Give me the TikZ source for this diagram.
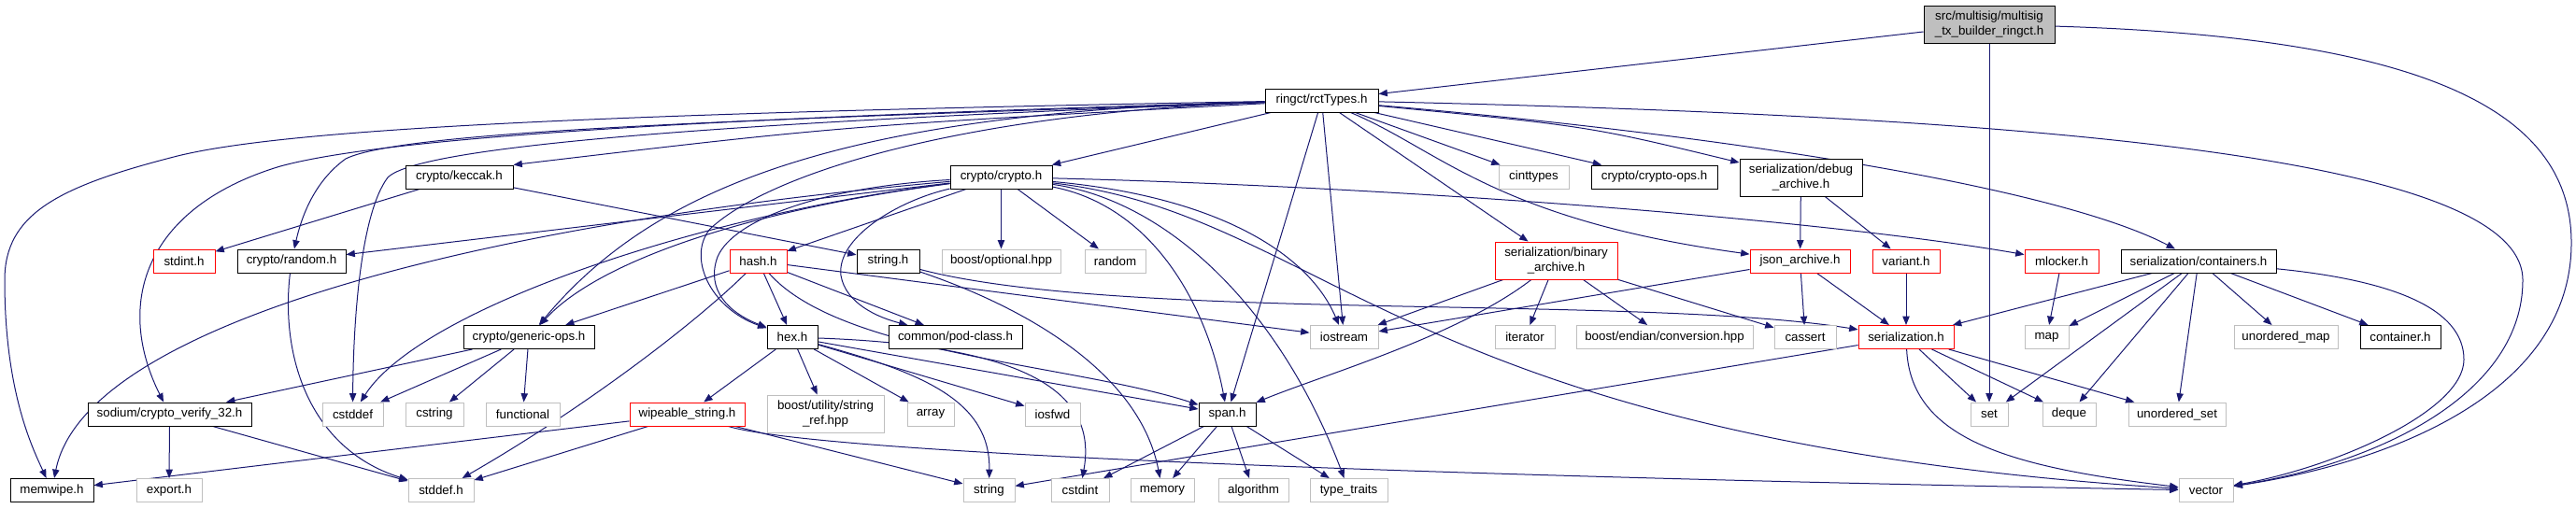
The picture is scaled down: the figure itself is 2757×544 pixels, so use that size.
\documentclass[tikz,border=0pt]{standalone}
\usepackage{fontspec}
\setmainfont{Liberation Sans}
\usetikzlibrary{arrows.meta}
\pgfdeclarelayer{bg}
\pgfsetlayers{bg,main}
\definecolor{edgec}{HTML}{191970}
\definecolor{grayb}{HTML}{BFBFBF}
\definecolor{redb}{HTML}{FF0000}
\begin{document}
\begin{tikzpicture}[x=0.75pt,y=-0.75pt,
  box/.style={draw,fill=white,line width=0.75pt,inner xsep=1pt,inner ysep=1pt,minimum height=18.75pt,font=\fontsize{10}{11.5}\selectfont,align=center,text=black},
  nb/.style={box,draw=black},
  ng/.style={box,draw=grayb},
  nr/.style={box,draw=redb},
  ntop/.style={box,draw=black,fill=grayb},
  wd/.style={minimum width=#1*0.75pt},
  tall/.style={minimum height=30pt},
  ed/.style={draw=edgec,line width=0.75pt,-{Triangle[length=7pt,width=5.5pt]}}]
\useasboundingbox (0,0) rectangle (2757,544);
% rank 0
\node[ntop,wd=140,tall] (top) at (2129,26) {src/multisig/multisig\\\_tx\_builder\_ringct.h};
% rank 1
\node[nb,wd=121] (rct) at (1414.5,107.5) {ringct/rctTypes.h};
% rank 2
\node[nb,wd=115] (keccak) at (491.5,189.5) {crypto/keccak.h};
\node[nb,wd=109] (crypto) at (1071.5,189.5) {crypto/crypto.h};
\node[ng,wd=75] (cinttypes) at (1641.5,189.5) {cinttypes};
\node[nb,wd=135] (cryptoops) at (1770.5,189.5) {crypto/crypto-ops.h};
\node[nb,wd=131,tall] (debug) at (1927.5,190) {serialization/debug\\\_archive.h};
% rank 3
\node[nr,wd=66] (stdint) at (197,279.5) {stdint.h};
\node[nb,wd=116] (randomh) at (312,279.5) {crypto/random.h};
\node[nr,wd=61] (hash) at (811.5,279.5) {hash.h};
\node[nb,wd=67] (stringh) at (950.5,279.5) {string.h};
\node[ng,wd=127] (optional) at (1071.5,279.5) {boost/optional.hpp};
\node[ng,wd=65] (randomsys) at (1193.5,279.5) {random};
\node[nr,wd=131,tall] (binary) at (1665.5,279) {serialization/binary\\\_archive.h};
\node[nr,wd=107] (json) at (1926.5,279.5) {json\_archive.h};
\node[nr,wd=72] (variant) at (2040,279.5) {variant.h};
\node[nr,wd=79] (mlocker) at (2206.5,279.5) {mlocker.h};
\node[nb,wd=166] (containers) at (2353,279.5) {serialization/containers.h};
% rank 4
\node[nb,wd=140] (generic) at (566,361) {crypto/generic-ops.h};
\node[nb,wd=54] (hex) at (848,361) {hex.h};
\node[nb,wd=143] (pod) at (1022.5,361) {common/pod-class.h};
\node[ng,wd=73] (iostream) at (1438.5,361) {iostream};
\node[ng,wd=64] (iterator) at (1632,361) {iterator};
\node[ng,wd=189] (endian) at (1781.5,361) {boost/endian/conversion.hpp};
\node[ng,wd=66] (cassert) at (1932,361) {cassert};
\node[nr,wd=102] (serial) at (2040,361) {serialization.h};
\node[ng,wd=47] (map) at (2190.5,361) {map};
\node[ng,wd=111] (umap) at (2446.5,361) {unordered\_map};
\node[nb,wd=86] (containerh) at (2569,361) {container.h};
% rank 5
\node[nb,wd=175] (sodium) at (181.5,443.5) {sodium/crypto\_verify\_32.h};
\node[ng,wd=65] (cstddef) at (377.5,443.5) {cstddef};
\node[ng,wd=62] (cstring) at (465,443.5) {cstring};
\node[ng,wd=79] (functional) at (559.5,443.5) {functional};
\node[nr,wd=123] (wipeable) at (735.5,443.5) {wipeable\_string.h};
\node[ng,wd=125,tall] (stringref) at (883.5,443) {boost/utility/string\\\_ref.hpp};
\node[ng,wd=50] (array) at (996,443.5) {array};
\node[ng,wd=59] (iosfwd) at (1126.5,443.5) {iosfwd};
\node[nb,wd=61] (span) at (1313.5,443.5) {span.h};
\node[ng,wd=40] (set) at (2129,443.5) {set};
\node[ng,wd=57] (deque) at (2214.5,443.5) {deque};
\node[ng,wd=104] (uset) at (2330,443.5) {unordered\_set};
% rank 6
\node[nb,wd=89] (memwipe) at (55.5,525) {memwipe.h};
\node[ng,wd=70] (export) at (181,525) {export.h};
\node[ng,wd=70] (stddef) at (472,525) {stddef.h};
\node[ng,wd=55] (stringsys) at (1058.5,525) {string};
\node[ng,wd=62] (cstdint) at (1156,525) {cstdint};
\node[ng,wd=68] (memory) at (1244,525) {memory};
\node[ng,wd=75] (algorithm) at (1341.5,525) {algorithm};
\node[ng,wd=83] (typetraits) at (1443.5,525) {type\_traits};
\node[ng,wd=58] (vector) at (2361,525) {vector};

\begin{pgfonlayer}{bg}
% top
\draw[ed] (top) -- (rct);
\draw[ed] (top) -- (set);
\draw[ed] (top) .. controls (2600,40) and (2752,120) .. (2752,260) .. controls (2752,420) and (2560,495) .. (vector);
% rctTypes
\draw[ed] (rct) .. controls (600,122) and (300,140) .. (190,167) .. controls (60,200) and (5,230) .. (5,300) .. controls (5,420) and (35,480) .. (memwipe);
\draw[ed] (rct) .. controls (800,125) and (420,145) .. (300,178) .. controls (160,220) and (120,320) .. (sodium);
\draw[ed] (rct) .. controls (800,128) and (430,140) .. (370,170) .. controls (335,195) and (322,235) .. (randomh);
\draw[ed] (rct) .. controls (800,130) and (450,155) .. (415,190) .. controls (385,230) and (378,350) .. (cstddef);
\draw[ed] (rct) .. controls (900,135) .. (keccak.north east);
\draw[ed] (rct) .. controls (900,120) and (700,200) .. (generic);
\draw[ed] (rct) .. controls (1050,120) and (830,180) .. (760,245) .. controls (735,275) and (760,330) .. (hex);
\draw[ed] (rct) -- (crypto);
\draw[ed] (rct) -- (iostream);
\draw[ed] (rct) -- (span);
\draw[ed] (rct) -- (binary);
\draw[ed] (rct) .. controls (1540,160) and (1600,235) .. (json);
\draw[ed] (rct) -- (cinttypes);
\draw[ed] (rct) -- (cryptoops);
\draw[ed] (rct) .. controls (1700,135) .. (debug);
\draw[ed] (rct) .. controls (1850,145) and (2200,200) .. (containers);
\draw[ed] (rct) .. controls (2200,125) and (2700,170) .. (2700,300) .. controls (2700,420) and (2550,495) .. (vector);
% crypto.h
\draw[ed] (crypto) -- (randomh);
\draw[ed] (crypto) .. controls (500,240) and (90,350) .. (memwipe);
\draw[ed] (crypto) .. controls (800,225) and (640,280) .. (generic);
\draw[ed] (crypto) .. controls (750,230) and (450,330) .. (cstddef);
\draw[ed] (crypto) .. controls (880,200) and (785,235) .. (768,275) .. controls (755,310) and (780,335) .. (hex);
\draw[ed] (crypto) -- (hash);
\draw[ed] (crypto) .. controls (960,215) and (895,255) .. (900,295) .. controls (905,325) and (940,340) .. (pod);
\draw[ed] (crypto) -- (optional);
\draw[ed] (crypto) -- (randomsys);
\draw[ed] (crypto) .. controls (1230,220) and (1290,320) .. (span);
\draw[ed] (crypto) .. controls (1250,215) and (1370,330) .. (typetraits);
\draw[ed] (crypto) .. controls (1300,210) and (1400,270) .. (iostream);
\draw[ed] (crypto) .. controls (1420,230) and (1500,470) .. (vector);
\draw[ed] (crypto) .. controls (1500,200) and (1950,235) .. (mlocker);
% keccak
\draw[ed] (keccak) -- (stdint);
\draw[ed] (keccak) -- (stringh);
% random.h
\draw[ed] (randomh) .. controls (300,380) and (330,480) .. (stddef);
% generic-ops
\draw[ed] (generic) -- (sodium);
\draw[ed] (generic) -- (cstddef);
\draw[ed] (generic) -- (cstring);
\draw[ed] (generic) -- (functional);
% sodium
\draw[ed] (sodium) -- (export);
\draw[ed] (sodium) -- (stddef);
% hash
\draw[ed] (hash) -- (generic);
\draw[ed] (hash) .. controls (740,350) and (620,440) .. (stddef);
\draw[ed] (hash) -- (hex);
\draw[ed] (hash) -- (pod);
\draw[ed] (hash) .. controls (900,380) and (1150,390) .. (span);
\draw[ed] (hash) -- (iostream);
% string.h
\draw[ed] (stringh) .. controls (1200,345) and (1750,315) .. (serial);
\draw[ed] (stringh) .. controls (1100,330) and (1220,400) .. (memory);
% hex
\draw[ed] (hex) -- (wipeable);
\draw[ed] (hex) -- (stringref);
\draw[ed] (hex) -- (array);
\draw[ed] (hex) -- (iosfwd);
\draw[ed] (hex) .. controls (990,400) and (1060,430) .. (stringsys);
\draw[ed] (hex) .. controls (1100,370) and (1175,420) .. (cstdint);
\draw[ed] (hex) -- (span);
% wipeable_string
\draw[ed] (wipeable) -- (memwipe);
\draw[ed] (wipeable) -- (stddef);
\draw[ed] (wipeable) -- (stringsys);
\draw[ed] (wipeable) .. controls (900,492) and (1800,515) .. (vector);
% span
\draw[ed] (span) -- (cstdint);
\draw[ed] (span) -- (memory);
\draw[ed] (span) -- (algorithm);
\draw[ed] (span) -- (typetraits);
% binary_archive
\draw[ed] (binary) -- (iostream);
\draw[ed] (binary) .. controls (1560,360) and (1420,400) .. (span);
\draw[ed] (binary) -- (iterator);
\draw[ed] (binary) -- (endian);
\draw[ed] (binary) -- (cassert);
% json_archive
\draw[ed] (json) -- (iostream);
\draw[ed] (json) -- (cassert);
\draw[ed] (json) -- (serial);
% variant, debug, mlocker
\draw[ed] (variant) -- (serial);
\draw[ed] (debug) -- (json);
\draw[ed] (debug) -- (variant);
\draw[ed] (mlocker) -- (map);
% containers
\draw[ed] (containers) -- (serial);
\draw[ed] (containers) -- (map);
\draw[ed] (containers) -- (set);
\draw[ed] (containers) -- (deque);
\draw[ed] (containers) -- (uset);
\draw[ed] (containers) -- (umap);
\draw[ed] (containers) -- (containerh);
\draw[ed] (containers) .. controls (2560,300) and (2637,330) .. (2637,385) .. controls (2637,440) and (2500,500) .. (vector);
% serialization.h
\draw[ed] (serial) -- (set);
\draw[ed] (serial) -- (deque);
\draw[ed] (serial) -- (uset);
\draw[ed] (serial) .. controls (2045,470) and (2150,500) .. (vector);
\draw[ed] (serial) -- (stringsys);
\end{pgfonlayer}
\end{tikzpicture}
\end{document}
